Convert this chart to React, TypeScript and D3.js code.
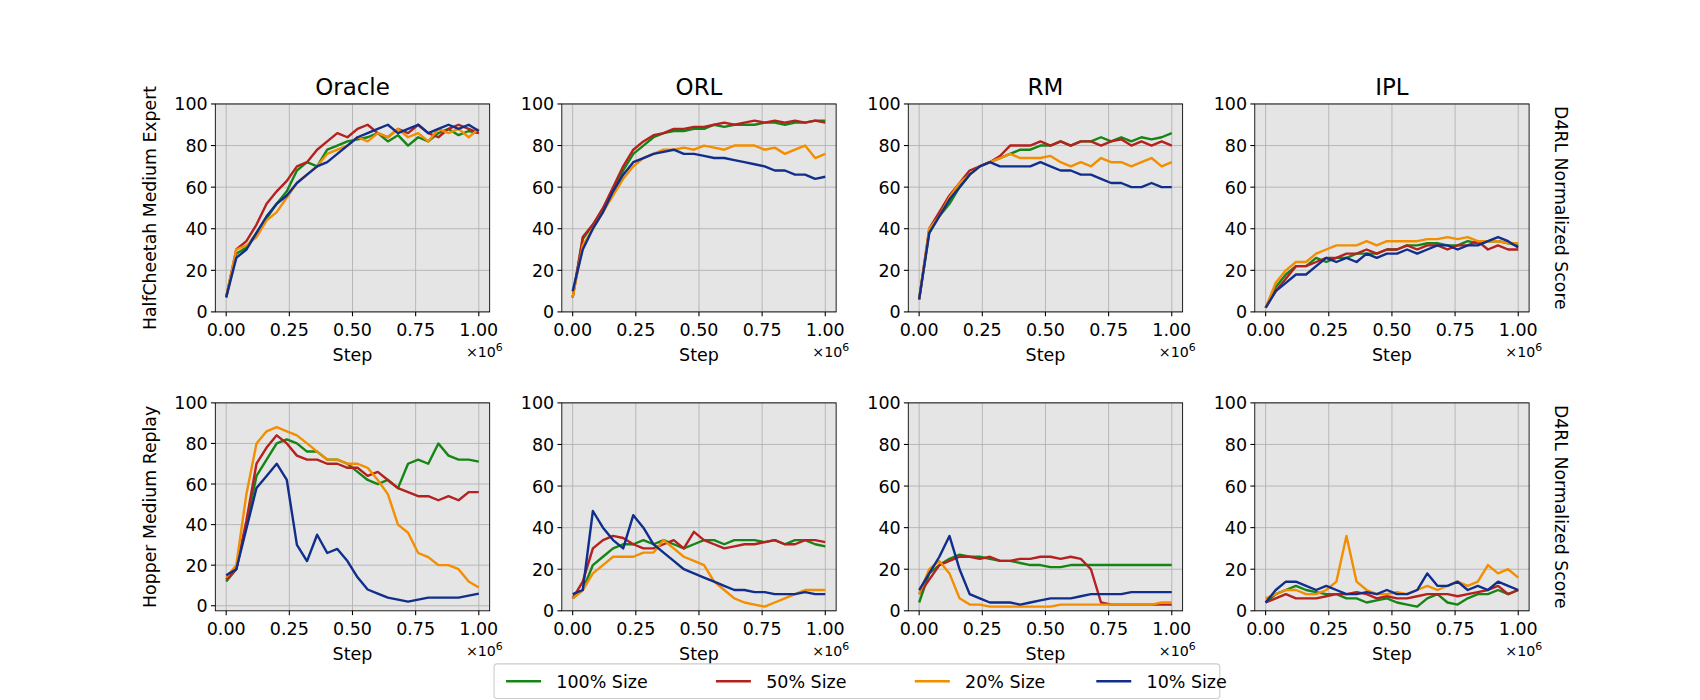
import React from "react";
import * as d3 from "d3";

const colNames = ["Oracle", "ORL", "RM", "IPL"];
const rowNames = ["HalfCheetah Medium Expert", "Hopper Medium Replay"];
const seriesNames = ["100% Size", "50% Size", "20% Size", "10% Size"];
const colors = ["#168516", "#b4211f", "#f28e00", "#102f8c"];
const xTicks = [0, 0.25, 0.5, 0.75, 1.0];
const yTicks = [0, 20, 40, 60, 80, 100];
const steps = d3.range(26).map((i) => i * 0.04);

const hcOracle = [
  [7,28,31,38,45,52,58,68,72,70,78,80,82,83,84,86,82,85,80,84,82,86,88,85,87,86],
  [7,30,34,42,52,58,63,70,72,78,82,86,84,88,90,86,84,88,86,90,86,84,88,90,88,86],
  [7,30,32,36,44,48,55,62,66,70,76,78,80,84,82,86,84,88,84,86,82,88,86,88,84,88],
  [7,26,30,38,46,52,56,62,66,70,72,76,80,84,86,88,90,86,88,90,86,88,90,88,90,87],
];
const hcORL = [
  [7,35,42,48,58,68,76,80,84,86,87,87,88,88,90,89,90,90,90,91,91,90,91,91,92,92],
  [7,36,42,50,60,70,78,82,85,86,88,88,89,89,90,91,90,91,92,91,92,91,92,91,92,91],
  [7,32,40,48,56,64,70,74,76,78,78,79,78,80,79,78,80,80,80,78,79,76,78,80,74,76],
  [10,30,40,48,58,66,72,74,76,77,78,76,76,75,74,74,73,72,71,70,68,68,66,66,64,65],
];
const hcRM = [
  [6,38,46,52,60,66,70,72,74,76,78,78,80,80,82,80,82,82,84,82,84,82,84,83,84,86],
  [6,40,48,56,62,68,70,72,75,80,80,80,82,80,82,80,82,82,80,82,83,80,82,80,82,80],
  [6,40,46,55,62,66,70,72,74,76,74,74,74,75,72,70,72,70,74,72,72,70,72,74,70,72],
  [6,38,46,54,60,66,70,72,70,70,70,70,72,70,68,68,66,66,64,62,62,60,60,62,60,60],
];
const hcIPL = [
  [2,12,18,22,22,26,24,26,26,28,28,28,30,30,32,32,33,33,32,32,34,33,34,34,33,32],
  [2,10,16,22,22,24,26,26,28,28,30,28,30,30,32,30,32,32,30,32,32,34,30,32,30,30],
  [2,14,20,24,24,28,30,32,32,32,34,32,34,34,34,34,35,35,36,35,36,34,34,34,33,33],
  [2,10,14,18,18,22,26,24,26,24,28,26,28,28,30,28,30,32,32,30,32,32,34,36,34,31],
];
const hoOracle = [
  [12,18,40,64,72,80,82,80,76,76,72,72,70,66,62,60,62,58,70,72,70,80,74,72,72,71],
  [13,18,42,70,78,84,80,74,72,72,70,70,68,68,64,66,62,58,56,54,54,52,54,52,56,56],
  [14,20,55,80,86,88,86,84,80,76,72,72,70,70,68,62,55,40,36,26,24,20,20,18,12,9],
  [15,18,38,58,64,70,62,30,22,35,26,28,22,14,8,6,4,3,2,3,4,4,4,4,5,6],
];
const hoORL = [
  [6,10,22,26,30,32,32,34,32,34,32,30,32,34,34,32,34,34,34,33,34,32,34,34,32,31],
  [6,14,30,34,36,35,32,30,30,32,34,30,38,34,32,30,31,32,32,33,34,32,32,34,34,33],
  [6,10,18,22,26,26,26,28,28,34,30,26,24,22,14,10,6,4,3,2,4,6,8,10,10,10],
  [8,10,48,40,34,30,46,40,32,28,24,20,18,16,14,12,10,10,9,9,8,8,8,9,8,8],
];
const hoRM = [
  [4,18,22,25,27,26,26,25,24,24,23,22,22,21,21,22,22,22,22,22,22,22,22,22,22,22],
  [8,15,22,24,26,26,25,26,24,24,25,25,26,26,25,26,25,20,4,3,3,3,3,3,3,3],
  [8,20,24,18,6,3,3,2,2,2,2,2,2,2,3,3,3,3,3,3,3,3,3,3,4,4],
  [10,18,26,36,20,8,6,4,4,4,3,4,5,6,6,6,7,8,8,8,8,9,9,9,9,9],
];
const hoIPL = [
  [4,8,10,12,10,9,8,8,6,6,4,5,6,4,3,2,6,8,4,3,6,8,8,10,8,10],
  [4,6,8,6,6,6,7,8,8,9,8,6,7,6,6,7,8,8,8,7,8,9,10,12,8,10],
  [6,8,10,10,8,8,10,14,36,14,10,8,8,9,8,10,12,10,12,14,12,14,22,18,20,16],
  [4,10,14,14,12,10,12,10,8,8,9,8,10,8,8,10,18,12,12,14,10,12,10,14,12,10],
];
const data = [
  [hcOracle, hcORL, hcRM, hcIPL],
  [hoOracle, hoORL, hoRM, hoIPL],
];

const colX = [197, 514, 831, 1148];
const PW = 251;
const rowY = [96, 372];
const PH = 192;
const font = "DejaVu Sans, sans-serif";

export default function App() {
  return (
    <svg width={1700} height={700} style={{ position: "absolute", left: 0, top: 0, fontFamily: font }}>
      <rect width={1700} height={700} fill="#fff" />
      <g transform="scale(1.093,1.083)">
      {data.map((row, r) =>
        row.map((cell, c) => {
          const x = d3.scaleLinear().domain([-0.043, 1.043]).range([colX[c], colX[c] + PW]);
          const y = d3.scaleLinear().domain(r === 1 && c === 0 ? [-2.5, 100] : [0, 100]).range([rowY[r] + PH, rowY[r]]);
          const line = d3.line<number>().x((_, i) => x(steps[i])).y((v) => y(v));
          const bottom = rowY[r] + PH;
          return (
            <g key={`${r}-${c}`}>
              <rect x={colX[c]} y={rowY[r]} width={PW} height={PH} fill="#e5e5e5" />
              {xTicks.map((t) => (
                <line key={"gx" + t} x1={x(t)} x2={x(t)} y1={rowY[r]} y2={bottom} stroke="#b0b0b0" strokeWidth={0.8} />
              ))}
              {yTicks.map((t) => (
                <line key={"gy" + t} x1={colX[c]} x2={colX[c] + PW} y1={y(t)} y2={y(t)} stroke="#b0b0b0" strokeWidth={0.8} />
              ))}
              {cell.map((s, k) => (
                <path key={k} d={line(s) || ""} fill="none" stroke={colors[k]} strokeWidth={2.2} strokeLinejoin="round" />
              ))}
              <rect x={colX[c]} y={rowY[r]} width={PW} height={PH} fill="none" stroke="#000" strokeWidth={0.8} />
              {xTicks.map((t) => (
                <g key={"tx" + t}>
                  <line x1={x(t)} x2={x(t)} y1={bottom} y2={bottom + 4} stroke="#000" />
                  <text x={x(t)} y={bottom + 22} fontSize={16} textAnchor="middle">{t.toFixed(2)}</text>
                </g>
              ))}
              {yTicks.map((t) => (
                <g key={"ty" + t}>
                  <line x1={colX[c] - 4} x2={colX[c]} y1={y(t)} y2={y(t)} stroke="#000" />
                  <text x={colX[c] - 7} y={y(t) + 6} fontSize={16} textAnchor="end">{t}</text>
                </g>
              ))}
              <text x={colX[c] + PW / 2} y={bottom + 45} fontSize={16} textAnchor="middle">Step</text>
              <text x={colX[c] + PW + 12} y={bottom + 42} fontSize={13} textAnchor="end">
                ×10<tspan dy={-6} fontSize={10}>6</tspan>
              </text>
              {r === 0 && (
                <text x={colX[c] + PW / 2} y={rowY[r] - 8} fontSize={21} textAnchor="middle">{colNames[c]}</text>
              )}
              {c === 0 && (
                <text transform={`translate(${colX[c] - 54},${rowY[r] + PH / 2}) rotate(-90)`} fontSize={16} textAnchor="middle">{rowNames[r]}</text>
              )}
              {c === 3 && (
                <text transform={`translate(${colX[c] + PW + 24},${rowY[r] + PH / 2}) rotate(90)`} fontSize={16} textAnchor="middle">D4RL Normalized Score</text>
              )}
            </g>
          );
        })
      )}
      <g>
        <rect x={452} y={613} width={664} height={32} fill="#fff" stroke="#ccc" rx={3} />
        {seriesNames.map((n, i) => {
          const lx = [463, 655, 837, 1003][i];
          return (
            <g key={n}>
              <line x1={lx} x2={lx + 32} y1={629} y2={629} stroke={colors[i]} strokeWidth={2.2} />
              <text x={lx + 46} y={635} fontSize={16}>{n}</text>
            </g>
          );
        })}
      </g>
      </g>
    </svg>
  );
}
